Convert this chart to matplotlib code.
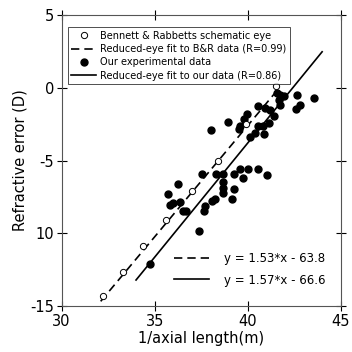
import matplotlib
matplotlib.use('Agg')
import matplotlib.pyplot as plt
import numpy as np
from matplotlib.lines import Line2D

# Bennett & Rabbetts schematic eye
brX = [32.2, 33.3, 34.4, 35.6, 37.0, 38.4, 39.9, 41.5]
brY = [-14.3, -12.7, -10.9, -9.1, -7.1, -5.0, -2.5, 0.1]

# our experimental data
expX = [41.57, 41.75, 41.93, 41.69, 42.64, 43.59, 42.82, 42.59, 41.75, 41.21,
        40.94, 40.58, 41.39, 41.12, 40.83, 39.96, 39.78, 39.60, 39.51, 38.94,
        38.02, 40.58, 40.40, 40.85, 40.14,
        37.54, 38.31, 38.70, 39.24, 39.56, 40.01, 40.53, 41.03, 39.74, 38.70,
        38.67, 38.70, 39.24, 39.15, 38.25, 38.07, 37.71, 37.63, 36.28, 35.71,
        36.01, 36.37, 35.83, 36.52, 36.70, 37.36, 34.76]
expY = [-0.36, -0.52, -0.58, -0.86, -0.47, -0.70, -1.20, -1.43, -1.15, -1.50,
        -1.36, -1.25, -1.96, -2.42, -2.65, -1.82, -2.16, -2.62, -2.85, -2.35,
        -2.90, -2.62, -3.08, -3.19, -3.35,
        -5.94, -5.94, -5.94, -5.94, -5.55, -5.55, -5.55, -6.01, -6.22, -6.47,
        -6.86, -7.25, -6.93, -7.66, -7.66, -7.78, -8.12, -8.47, -6.63, -7.27,
        -7.89, -7.85, -8.05, -8.47, -8.47, -9.84, -12.13]

# reduced-eye fits (slope, intercept, x range)
brFit = (1.53, -63.8, 32.1, 41.6)
ourFit = (1.57, -66.6, 34.0, 44.0)

xTicks = [30, 35, 40, 45]
yTicks = [-15, -10, -5, 0, 5]
yTickLabels = ['-15', '10', '-5', '0', '5']

fig = plt.figure(figsize=(3.52, 3.52), dpi=100)
ax = fig.add_axes([0.175, 0.131, 0.793, 0.826])

lw = 1.2
fx = np.array(brFit[2:])
ax.plot(fx, brFit[0] * fx + brFit[1], color='black', lw=lw, linestyle=(0, (5, 3)))
fx = np.array(ourFit[2:])
ax.plot(fx, ourFit[0] * fx + ourFit[1], color='black', lw=lw)

ax.plot(expX, expY, 'o', color='black', markersize=5, zorder=3)
ax.plot(brX, brY, 'o', markerfacecolor='white', markeredgecolor='black',
        markeredgewidth=0.7, markersize=4.5, zorder=4)

ax.set_xlim(30, 45)
ax.set_ylim(-15, 5)
ax.set_xticks(xTicks)
ax.set_yticks(yTicks)
ax.set_yticklabels(yTickLabels)
ax.tick_params(direction='inout', length=7, width=0.8, top=True, right=True,
               labelsize=10.5, pad=2)
for s in ax.spines.values():
    s.set_linewidth(0.8)
    s.set_color('#555555')

ax.set_xlabel('1/axial length(m)', fontsize=10.5, labelpad=2)
ax.set_ylabel('Refractive error (D)', fontsize=10.5, labelpad=2)

h1 = [Line2D([], [], marker='o', linestyle='none', markerfacecolor='white',
             markeredgecolor='black', markeredgewidth=0.7, markersize=4.5),
      Line2D([], [], color='black', lw=lw, linestyle=(0, (5, 3))),
      Line2D([], [], marker='o', linestyle='none', color='black', markersize=5),
      Line2D([], [], color='black', lw=lw)]
l1 = ['Bennett & Rabbetts schematic eye',
      'Reduced-eye fit to B&R data (R=0.99)',
      'Our experimental data',
      'Reduced-eye fit to our data (R=0.86)']
leg1 = ax.legend(h1, l1, loc='upper left', bbox_to_anchor=(0.015, 0.965),
                 fontsize=7.0, frameon=True, fancybox=False, edgecolor='black',
                 handlelength=2.6, handletextpad=0.4, labelspacing=0.35,
                 borderpad=0.35, borderaxespad=0.2)
leg1.get_frame().set_linewidth(0.6)
ax.add_artist(leg1)

h2 = [Line2D([], [], color='black', lw=lw, linestyle=(0, (5, 3))),
      Line2D([], [], color='black', lw=lw)]
l2 = ['y = 1.53*x - 63.8', 'y = 1.57*x - 66.6']
ax.legend(h2, l2, loc='lower right', bbox_to_anchor=(0.985, 0.03),
          fontsize=8.5, frameon=False, handlelength=3.0, handletextpad=1.3,
          labelspacing=0.7)

fig.savefig('out.png', dpi=100)
